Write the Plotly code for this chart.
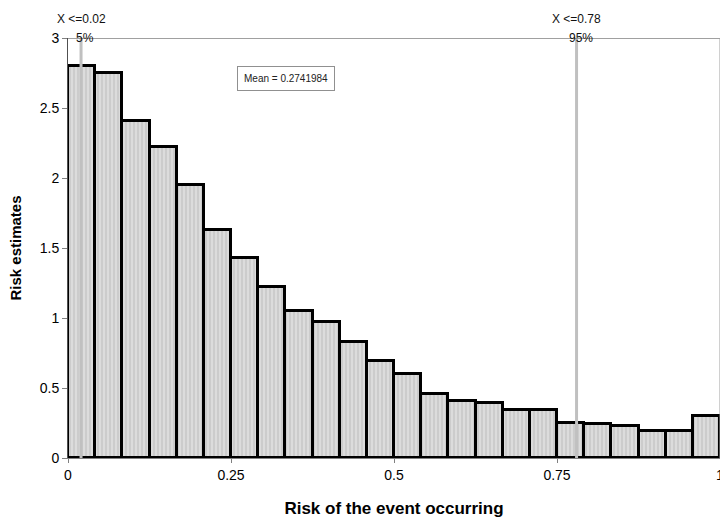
import plotly.graph_objects as go

bin_starts = [i / 24 for i in range(24)]
bin_width = 1 / 24
risk_estimates = [2.80, 2.75, 2.41, 2.22, 1.95, 1.63, 1.43, 1.22, 1.05, 0.97,
                  0.83, 0.69, 0.60, 0.46, 0.41, 0.39, 0.34, 0.34, 0.25, 0.24,
                  0.23, 0.19, 0.19, 0.30]
percentile_x = [0.02, 0.78]
percentile_labels = ["X <=0.02", "X <=0.78"]
percentile_pct = ["5%", "95%"]
mean_text = "Mean = 0.2741984"
x_ticks = [0, 0.25, 0.5, 0.75, 1]
x_tick_labels = ["0", "0.25", "0.5", "0.75", "1"]
y_ticks = [0, 0.5, 1, 1.5, 2, 2.5, 3]
y_tick_labels = ["0", "0.5", "1", "1.5", "2", "2.5", "3"]

FONT = "Liberation Sans, Arial, sans-serif"

fig = go.Figure()
fig.add_trace(go.Bar(
    x=[s + bin_width / 2 for s in bin_starts],
    y=risk_estimates,
    width=bin_width,
    marker=dict(
        color="#d4d4d4",
        line=dict(color="black", width=3),
        pattern=dict(shape="|", fgcolor="#b4b4b4", bgcolor="#dcdcdc", size=4, solidity=0.4),
    ),
    showlegend=False,
    cliponaxis=False,
))

for xv in percentile_x:
    fig.add_shape(type="line", x0=xv, x1=xv, y0=0, y1=3, xref="x", yref="y",
                  line=dict(color="#c0c0c0", width=3))

# top and right frame
fig.add_shape(type="line", x0=0, x1=1, y0=3, y1=3, xref="x", yref="y",
              line=dict(color="#808080", width=1.5))
fig.add_shape(type="line", x0=1, x1=1, y0=0, y1=3, xref="x", yref="y",
              line=dict(color="#a0a0a0", width=1))

for xv, lab, pct in zip(percentile_x, percentile_labels, percentile_pct):
    fig.add_annotation(x=xv, y=1, xref="x", yref="paper", text=lab, showarrow=False,
                       yanchor="bottom", yshift=10, font=dict(family=FONT, size=12, color="#111"))
    fig.add_annotation(x=xv, y=1, xref="x", yref="paper", text=pct, showarrow=False,
                       yanchor="middle", xshift=4, font=dict(family=FONT, size=12, color="#111"))

fig.add_annotation(x=0.335, y=2.71, xref="x", yref="y", text=mean_text, showarrow=False,
                   bordercolor="#909090", borderwidth=1, borderpad=6, bgcolor="white",
                   font=dict(family=FONT, size=10, color="#222"))

fig.update_layout(
    width=720, height=520,
    margin=dict(l=68, r=0, t=38, b=62, autoexpand=False),
    paper_bgcolor="white", plot_bgcolor="white",
    bargap=0,
    font=dict(family=FONT, size=14, color="black"),
    xaxis=dict(range=[0, 1], tickvals=x_ticks, ticktext=x_tick_labels, automargin=False,
               ticklabeloverflow="allow",
               showgrid=False, zeroline=False, showline=True, linecolor="#808080", linewidth=1,
               ticks="outside", ticklen=4, tickcolor="#808080",
               title=dict(text="<b>Risk of the event occurring</b>", font=dict(family=FONT, size=17), standoff=20)),
    yaxis=dict(range=[0, 3], tickvals=y_ticks, ticktext=y_tick_labels, automargin=False,
               showgrid=False, zeroline=False, showline=True, linecolor="#505050", linewidth=1,
               ticks="outside", ticklen=5, tickcolor="#808080",
               title=dict(text="<b>Risk estimates</b>", font=dict(family=FONT, size=15), standoff=14)),
)

fig.write_html("out.html", config={"displayModeBar": False},
               post_script="document.body.style.margin='0';document.body.style.overflow='hidden';")
